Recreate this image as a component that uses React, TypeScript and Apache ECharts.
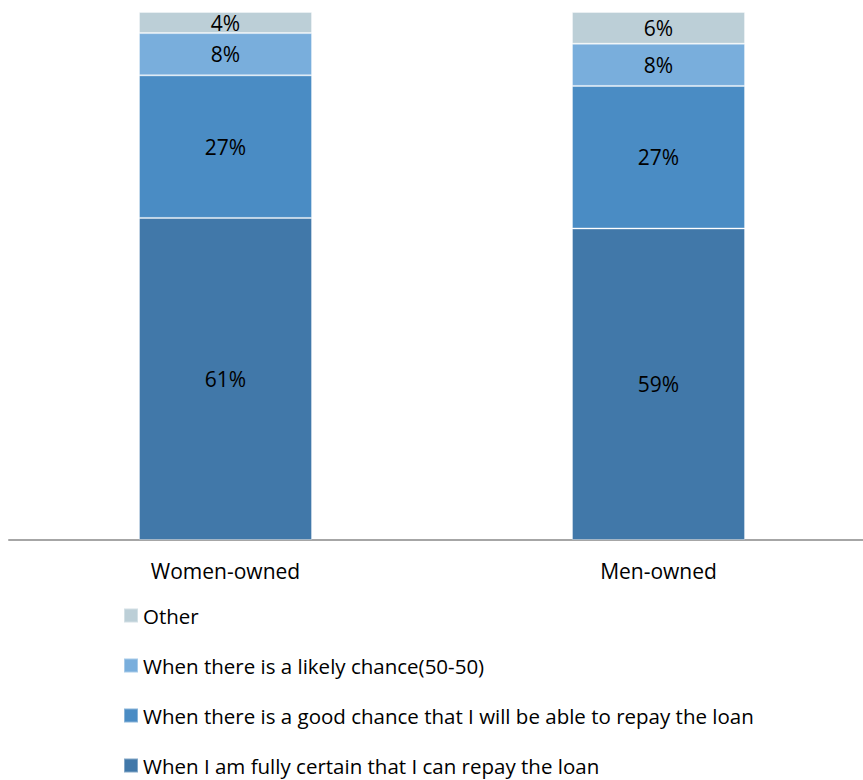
import React, { useEffect, useRef } from "react";
import * as echarts from "echarts";

const categories = ["Women-owned", "Men-owned"];
const seriesNames = [
  "When I am fully certain that I can repay the loan",
  "When there is a good chance that I will be able to repay the loan",
  "When there is a likely chance(50-50)",
  "Other",
];
const fullyCertain = [61, 59];
const goodChance = [27, 27];
const likelyChance = [8, 8];
const other = [4, 6];
const colors = ["#4178a9", "#4a8cc4", "#79aedc", "#bccfd7"];

export default function App() {
  const ref = useRef<HTMLDivElement>(null);
  useEffect(() => {
    if (!ref.current) return;
    const chart = echarts.init(ref.current, null, { renderer: "svg" });
    const font = "Open Sans";
    const values = [fullyCertain, goodChance, likelyChance, other];
    chart.setOption({
      animation: false,
      textStyle: { fontFamily: font },
      grid: { left: 9, top: 12, width: 866, height: 528, containLabel: false },
      xAxis: {
        type: "category",
        data: categories,
        axisLine: { lineStyle: { color: "#a6a6a6", width: 2 } },
        axisTick: { show: false },
        axisLabel: { color: "#000", fontSize: 21, fontFamily: font, margin: 20 },
      },
      yAxis: {
        type: "value",
        min: 0,
        max: 100,
        show: false,
      },
      legend: {
        orient: "vertical",
        left: 123,
        top: 605,
        height: 200,
        width: 740,
        padding: 0,
        itemWidth: 14,
        itemHeight: 14,
        itemGap: 29,
        icon: "rect",
        data: [seriesNames[3], seriesNames[2], seriesNames[1], seriesNames[0]],
        textStyle: {
          color: "#000",
          fontSize: 20.5,
          lineHeight: 20,
          fontFamily: font,
          padding: [0, 0, 0, 0],
        },
      },
      series: values.map((v, i) => ({
        name: seriesNames[i],
        type: "bar",
        stack: "total",
        barWidth: 173,
        data: v,
        itemStyle: { color: colors[i], borderColor: "rgba(255,255,255,0.35)", borderWidth: 1 },
        label: {
          show: true,
          position: "inside",
          formatter: "{c}%",
          color: "#000",
          fontSize: 21,
          fontFamily: font,
        },
      })),
    });
    return () => chart.dispose();
  }, []);
  return (
    <div style={{ position: "absolute", left: 0, top: 0, width: 863, height: 780, overflow: "hidden" }}>
      <div ref={ref} style={{ width: 880, height: 780 }} />
    </div>
  );
}
